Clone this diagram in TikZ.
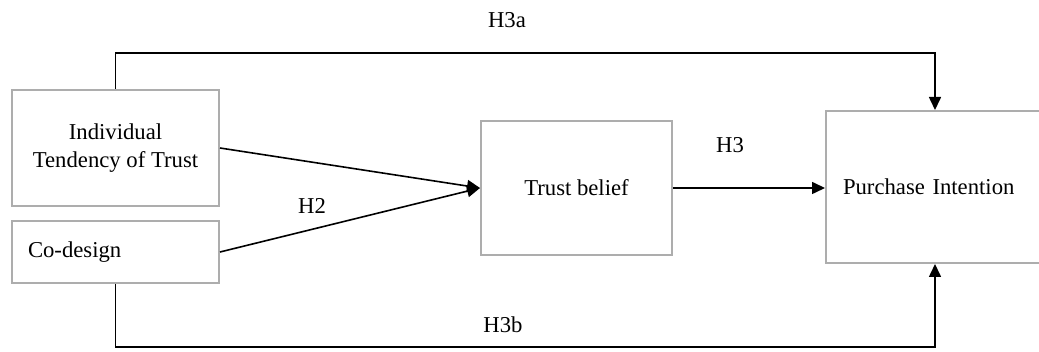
\documentclass[tikz,border=0pt]{standalone}
\usepackage{fontspec}
\setmainfont{Liberation Serif}
\usetikzlibrary{arrows.meta}
\definecolor{boxgray}{gray}{0.68}
\tikzset{
  varbox/.style={draw=boxgray,line width=2pt,rectangle,inner sep=0pt},
  link/.style={line width=1.6pt,-{Triangle[length=13pt,width=12pt]}},
  hyp/.style={inner sep=0pt}
}
\begin{document}
\begin{tikzpicture}[x=1pt,y=-1pt,font=\fontsize{22.7}{28}\selectfont]
      \clip (0,0) rectangle (1039,352);
      \draw
        (115.5,148) node[varbox,minimum width=207pt,minimum height=116pt,align=center] (indiv){Individual\\Tendency of Trust}
        (115.5,252) node[varbox,minimum width=207pt,minimum height=62pt,text width=175pt,align=left] (codes){Co-design}
        (576.5,188) node[varbox,minimum width=191pt,minimum height=134pt] (tb){Trust belief}
        (933.5,187) node[varbox,minimum width=215pt,minimum height=152pt,text width=181pt,align=left] (pi){Purchase Intention};
      \coordinate (h3a) at (935,53);
      \coordinate (h3b) at (935,347);
      \draw
        (507,20) node[hyp] (la){H3a}
        (730,145) node[hyp] (lc){H3}
        (312,206) node[hyp] (lb){H2}
        (503,325) node[hyp] (ld){H3b};
      \begin{scope}[link]
        \draw (indiv.east) to (tb.west);
        \draw (codes.east) to (tb.west);
        \draw (tb.east) to (tb.east -| pi.west);
        \draw (indiv.north) |- (h3a) -- (h3a |- pi.north);
        \draw (codes.south) |- (h3b) -- (h3b |- pi.south);
      \end{scope}
    \end{tikzpicture}
\end{document}
